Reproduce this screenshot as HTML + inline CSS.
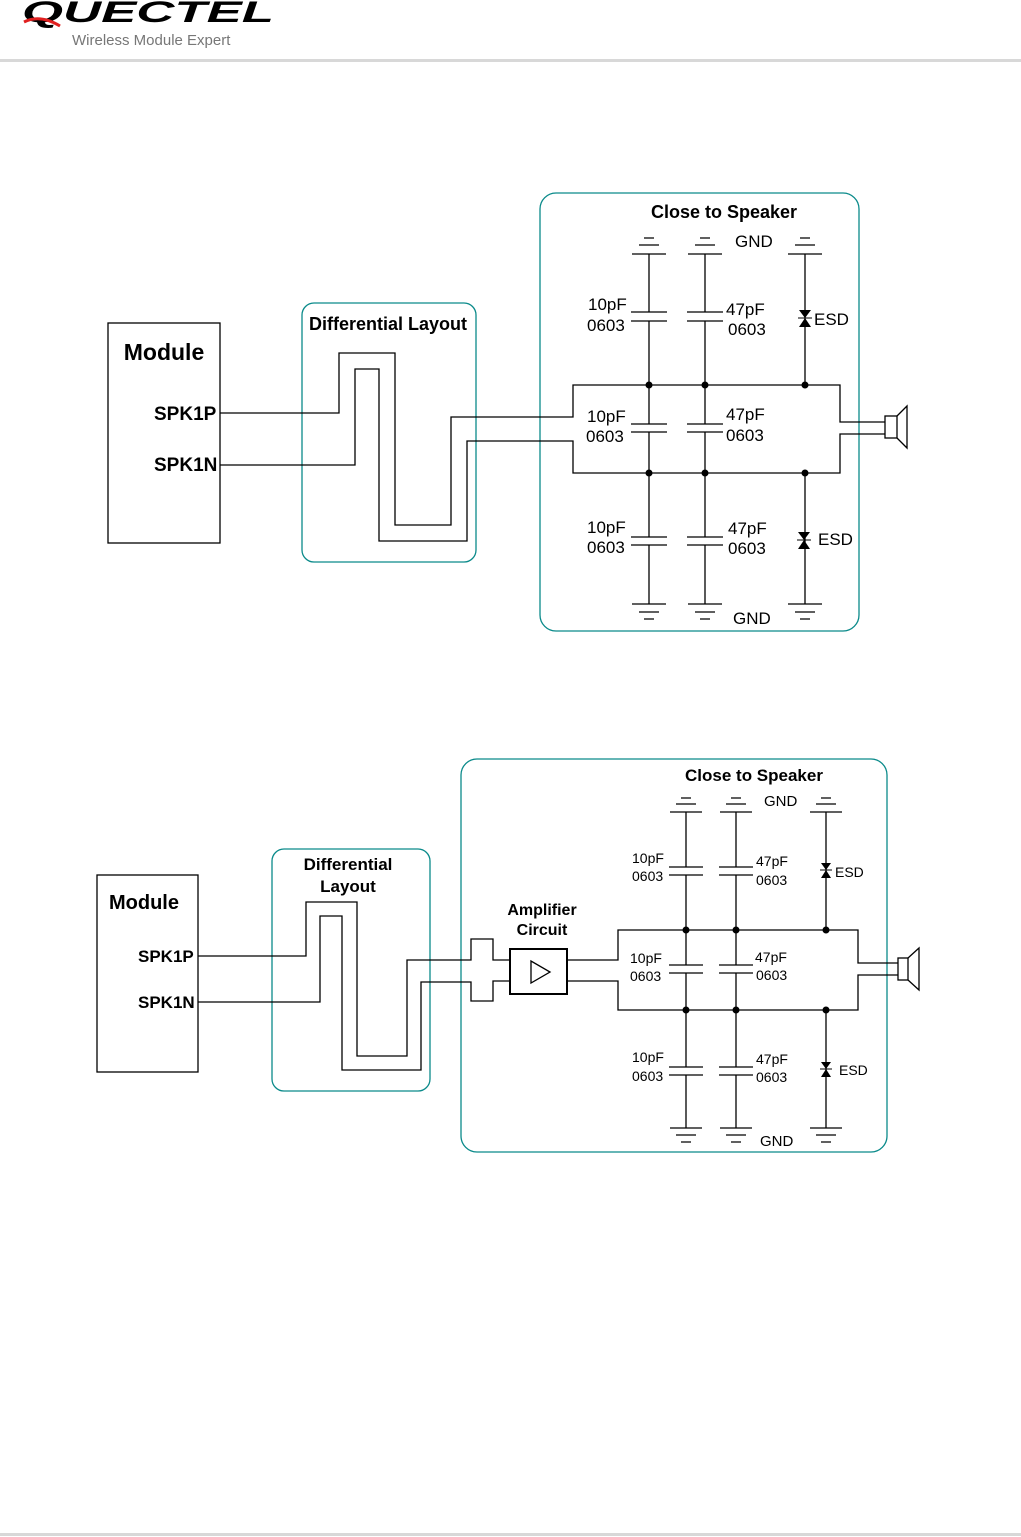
<!DOCTYPE html>
<html><head><meta charset="utf-8"><style>
body{margin:0;background:#fff;width:1021px;height:1537px;overflow:hidden}
svg{position:absolute;left:0;top:0}
text{font-family:"Liberation Sans",Arial,sans-serif;fill:#000}
.b{font-weight:bold}
</style></head><body>
<svg width="1021" height="1537" viewBox="0 0 1021 1537">
<!-- header -->
<text x="22" y="22" font-size="30" font-weight="bold" font-style="italic" fill="#000" textLength="252" lengthAdjust="spacingAndGlyphs">QUECTEL</text>
<path d="M24 22 Q40 14 60 26" stroke="#e02020" stroke-width="3" fill="none"/>
<text x="72" y="45" font-size="15" style="fill:#777">Wireless Module Expert</text>
<rect x="0" y="59" width="1021" height="3" fill="#d8d8d8"/>
<rect x="0" y="1533" width="1021" height="3" fill="#d8d8d8"/>

<g fill="none" stroke="#000" stroke-width="1.3">
<!-- Diagram 1 -->
<rect x="108" y="323" width="112" height="220"/>
<rect x="302" y="303" width="174" height="259" rx="12" stroke="#0a8a8a"/>
<rect x="540" y="193" width="319" height="438" rx="16" stroke="#0a8a8a"/>
<polyline points="220,413 339,413 339,353 395,353 395,525 451,525 451,417 573,417 573,385 840,385 840,422 885,422"/>
<polyline points="220,465 355,465 355,369 379,369 379,541 467,541 467,441 573,441 573,473 840,473 840,434 885,434"/>
<rect x="885" y="416" width="12" height="22"/>
<polyline points="897,416 907,406 907,448 897,438"/>
<path d="M649 254V312M649 321V424M649 432V537M649 545V604"/>
<path d="M705 254V312M705 321V424M705 432V537M705 545V604"/>
<path d="M805 254V385M805 473V604"/>
<path d="M631 312H667M631 321H667M687 312H723M687 321H723"/>
<path d="M631 424H667M631 432H667M687 424H723M687 432H723"/>
<path d="M631 537H667M631 545H667M687 537H723M687 545H723"/>
<path d="M644 238H654M639 245H659M632 254H666M700 238H710M695 245H715M688 254H722M800 238H810M795 245H815M788 254H822"/>
<path d="M632 604H666M639 612H659M644 619H654M688 604H722M695 612H715M700 619H710M788 604H822M795 612H815M800 619H810"/>
<!-- Diagram 2 -->
<rect x="97" y="875" width="101" height="197"/>
<rect x="272" y="849" width="158" height="242" rx="12" stroke="#0a8a8a"/>
<rect x="461" y="759" width="426" height="393" rx="16" stroke="#0a8a8a"/>
<polyline points="198,956 306,956 306,902 357,902 357,1056 407,1056 407,960 471,960 471,939 493,939 493,960 510,960"/>
<polyline points="198,1002 320,1002 320,916 342,916 342,1070 421,1070 421,982 471,982 471,1001 493,1001 493,981 510,981"/>
<rect x="510" y="949" width="57" height="45" stroke-width="2"/>
<polygon points="531,961 531,983 550,972"/>
<polyline points="567,960 618,960 618,930 858,930 858,963 898,963"/>
<polyline points="567,981 618,981 618,1010 858,1010 858,975 898,975"/>
<rect x="898" y="958" width="10" height="22"/>
<polyline points="908,958 919,948 919,990 908,980"/>
<path d="M686 812V867M686 875V965M686 973V1067M686 1075V1128"/>
<path d="M736 812V867M736 875V965M736 973V1067M736 1075V1128"/>
<path d="M826 812V930M826 1010V1128"/>
<path d="M669 867H703M669 875H703M719 867H753M719 875H753"/>
<path d="M669 965H703M669 973H703M719 965H753M719 973H753"/>
<path d="M669 1067H703M669 1075H703M719 1067H753M719 1075H753"/>
<path d="M681 798H691M676 804H696M670 812H702M731 798H741M726 804H746M720 812H752M821 798H831M816 804H836M810 812H842"/>
<path d="M670 1128H702M676 1135H696M681 1142H691M720 1128H752M726 1135H746M731 1142H741M810 1128H842M816 1135H836M821 1142H831"/>
</g>
<g fill="#000">
<circle cx="649" cy="385" r="3.5"/><circle cx="705" cy="385" r="3.5"/><circle cx="805" cy="385" r="3.5"/>
<circle cx="649" cy="473" r="3.5"/><circle cx="705" cy="473" r="3.5"/><circle cx="805" cy="473" r="3.5"/>
<circle cx="686" cy="930" r="3.5"/><circle cx="736" cy="930" r="3.5"/><circle cx="826" cy="930" r="3.5"/>
<circle cx="686" cy="1010" r="3.5"/><circle cx="736" cy="1010" r="3.5"/><circle cx="826" cy="1010" r="3.5"/>
<polygon points="799,310 811,310 805,318"/><polygon points="799,327 811,327 805,318"/><path d="M798 318H812" stroke="#000"/>
<polygon points="798,532 810,532 804,540"/><polygon points="798,549 810,549 804,540"/><path d="M797 540H811" stroke="#000"/>
<polygon points="821,863 831,863 826,870"/><polygon points="821,878 831,878 826,870"/><path d="M820 870H832" stroke="#000"/>
<polygon points="821,1062 831,1062 826,1069"/><polygon points="821,1077 831,1077 826,1069"/><path d="M820 1069H832" stroke="#000"/>
</g>
<text x="164" y="360" font-size="23" class="b" text-anchor="middle">Module</text>
<text x="154" y="420" font-size="19" class="b">SPK1P</text>
<text x="154" y="471" font-size="19" class="b">SPK1N</text>
<text x="388" y="330" font-size="18" class="b" text-anchor="middle">Differential Layout</text>
<text x="724" y="218" font-size="18" class="b" text-anchor="middle">Close to Speaker</text>
<text x="735" y="247" font-size="17">GND</text>
<text x="733" y="624" font-size="17">GND</text>
<g font-size="17">
<text x="588" y="310">10pF</text><text x="587" y="331">0603</text>
<text x="726" y="315">47pF</text><text x="728" y="335">0603</text>
<text x="587" y="422">10pF</text><text x="586" y="442">0603</text>
<text x="726" y="420">47pF</text><text x="726" y="441">0603</text>
<text x="587" y="533">10pF</text><text x="587" y="553">0603</text>
<text x="728" y="534">47pF</text><text x="728" y="554">0603</text>
<text x="814" y="325">ESD</text><text x="818" y="545">ESD</text>
</g>
<text x="144" y="909" font-size="20" class="b" text-anchor="middle">Module</text>
<text x="138" y="962" font-size="17" class="b">SPK1P</text>
<text x="138" y="1008" font-size="17" class="b">SPK1N</text>
<text x="348" y="870" font-size="17" class="b" text-anchor="middle">Differential</text>
<text x="348" y="892" font-size="17" class="b" text-anchor="middle">Layout</text>
<text x="542" y="915" font-size="16" class="b" text-anchor="middle">Amplifier</text>
<text x="542" y="935" font-size="16" class="b" text-anchor="middle">Circuit</text>
<text x="754" y="781" font-size="17" class="b" text-anchor="middle">Close to Speaker</text>
<text x="764" y="806" font-size="15">GND</text>
<text x="760" y="1146" font-size="15">GND</text>
<g font-size="14">
<text x="632" y="863">10pF</text><text x="632" y="881">0603</text>
<text x="756" y="866">47pF</text><text x="756" y="885">0603</text>
<text x="630" y="963">10pF</text><text x="630" y="981">0603</text>
<text x="755" y="962">47pF</text><text x="756" y="980">0603</text>
<text x="632" y="1062">10pF</text><text x="632" y="1081">0603</text>
<text x="756" y="1064">47pF</text><text x="756" y="1082">0603</text>
<text x="835" y="877">ESD</text><text x="839" y="1075">ESD</text>
</g>
</svg>
</body></html>
